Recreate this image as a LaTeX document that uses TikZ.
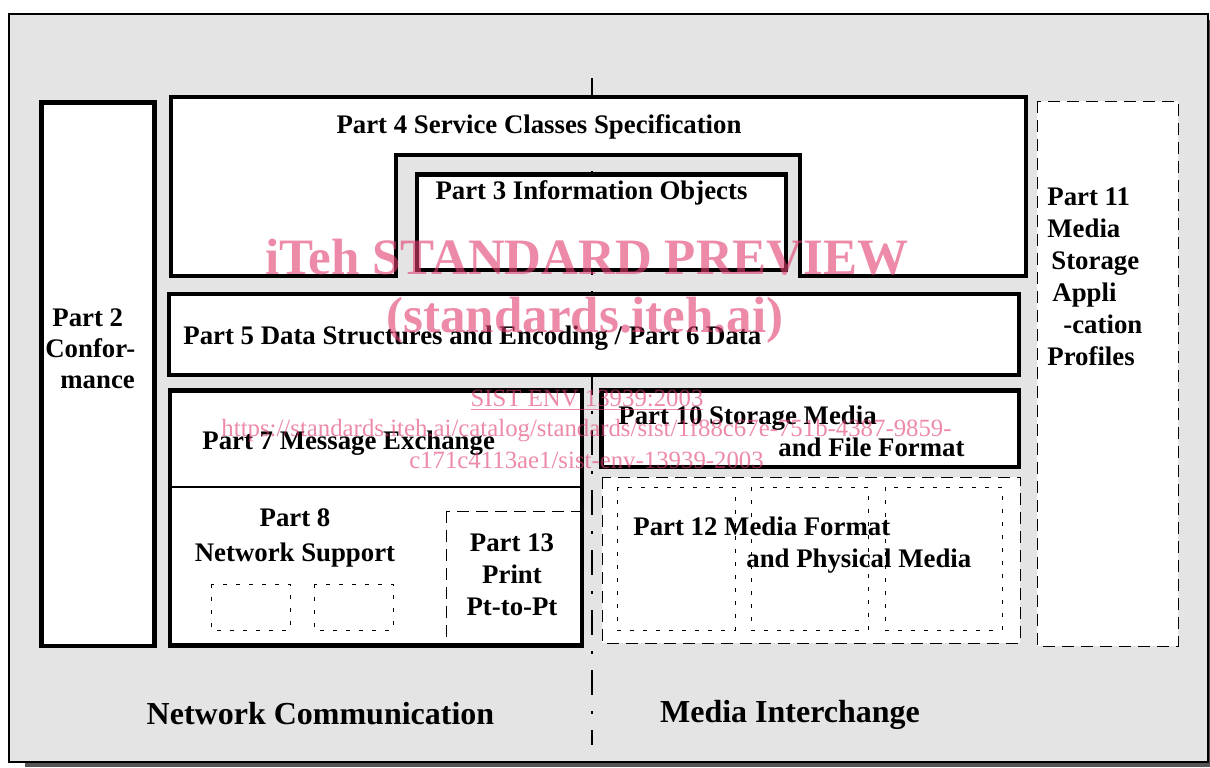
\documentclass[tikz,border=0pt]{standalone}
\usepackage{fontspec}
\setmainfont{Liberation Serif}
\usepackage{tikz}
\definecolor{dicomGray}{RGB}{228,228,228}
\definecolor{dicomShadow}{RGB}{85,85,85}
\definecolor{dicomPink}{RGB}{225,60,110}

\begin{document}
\begin{tikzpicture}[x=0.5pt, y=-0.5pt,
    partbox/.style={draw=black, line width=2.2pt, fill=white},
    dashbox/.style={draw=black, line width=0.5pt, dash pattern=on 6pt off 3.5pt},
    dotbox/.style={draw=black, line width=0.5pt, dash pattern=on 2pt off 4.5pt},
    lbl/.style={inner sep=0pt, font=\fontsize{13.4}{16}\selectfont\bfseries},
    region/.style={inner sep=0pt, font=\fontsize{16}{19}\selectfont\bfseries},
    wmark/.style={inner sep=0pt, text=dicomPink, text opacity=0.6, anchor=base}]
        \useasboundingbox (0,0) rectangle (1210,767);
        \fill[dicomShadow] (25,20) rectangle (1216,767);
        \filldraw[fill=dicomGray, draw=black, line width=1pt] (9,14) rectangle (1208,762);
        \draw[line width=0.6pt, dash pattern=on 12.5pt off 8pt on 1.5pt off 8pt, dash phase=4pt] (592,78) -- (592,745);
        \draw[partbox] (41.5,102.5) rectangle (154.5,646);
        \draw[partbox] (171,97) -- (1026,97) -- (1026,276) -- (800,276) -- (800,155)
            -- (396,155) -- (396,276) -- (171,276) -- cycle;
        \draw[partbox] (417,174.5) rectangle (786,270);
        \draw[partbox] (169,294) rectangle (1019,375);
        \draw[partbox] (170,390.5) rectangle (582,645.5);
        \draw[line width=1pt] (170,486.5) -- (582,486.5);
        \draw[dashbox] (446,511) rectangle (582,643);
        \draw[dotbox] (211,584) rectangle (290,630);
        \draw[dotbox] (314,584) rectangle (393,630);
        \draw[partbox] (601.5,390.5) rectangle (1019,467);
        \draw[dashbox, fill=white] (602,477) rectangle (1020,643);
        \draw[dotbox] (617,487) rectangle (735,630);
        \draw[dotbox] (751,487) rectangle (868,630);
        \draw[dotbox] (885,487) rectangle (1002,630);
        \draw[dashbox, fill=white] (1037,101) rectangle (1178,646);
        \node[lbl, anchor=west, align=left] (p2) at (45,349)
            {\hspace*{3.5pt}Part 2\\[-0.5pt]Confor-\\[-0.5pt]\hspace*{7.5pt}mance};
        \node[lbl, anchor=base] (p4) at (539,133) {Part 4 Service Classes Specification};
        \node[lbl, anchor=base] (p3) at (591.5,199) {Part 3 Information Objects};
        \node[lbl, anchor=base west] (p5) at (183,344) {Part 5 Data Structures and Encoding / Part 6 Data};
        \node[lbl, anchor=base west] (p7) at (202,449) {Part 7 Message Exchange};
        \node[lbl, align=center] (p8) at (295,537.5) {Part 8\\[1.5pt]Network Support};
        \node[lbl, align=center] (p13) at (512,575) {Part 13\\Print\\Pt-to-Pt};
        \node[lbl, anchor=west, align=left] (p10) at (618,431)
            {Part 10 Storage Media\\\hspace*{80pt}and File Format};
        \node[lbl, anchor=west, align=left] (p12) at (633,545)
            {Part 12 Media Format\\\hspace*{56.5pt}and Physical Media};
        \node[lbl, anchor=west, align=left] (p11) at (1047,276.5)
            {Part 11\\Media\\\hspace*{2pt}Storage\\\hspace*{2.5pt}Appli\\\hspace*{8pt}-cation\\Profiles};
        \node[region, anchor=base] (net) at (320.5,724) {Network Communication};
        \node[region, anchor=base] (media) at (790,722) {Media Interchange};
        \node[wmark, font=\fontsize{25.5}{30}\selectfont\bfseries] (wm1) at (587,274) {iTeh STANDARD PREVIEW};
        \node[wmark, font=\fontsize{25.5}{30}\selectfont\bfseries] (wm2) at (585,332) {(standards.iteh.ai)};
        \node[wmark, font=\fontsize{12.4}{14}\selectfont] (wm3) at (587,406) {\underline{SIST ENV 13939:2003}};
        \node[wmark, font=\fontsize{12.4}{14}\selectfont] (wm4) at (586.5,436)
            {https://standards.iteh.ai/catalog/standards/sist/1f88c67e-751b-4387-9859-};
        \node[wmark, font=\fontsize{12.4}{14}\selectfont] (wm5) at (586.5,468) {c171c4113ae1/sist-env-13939-2003};
      \end{tikzpicture}
\end{document}
